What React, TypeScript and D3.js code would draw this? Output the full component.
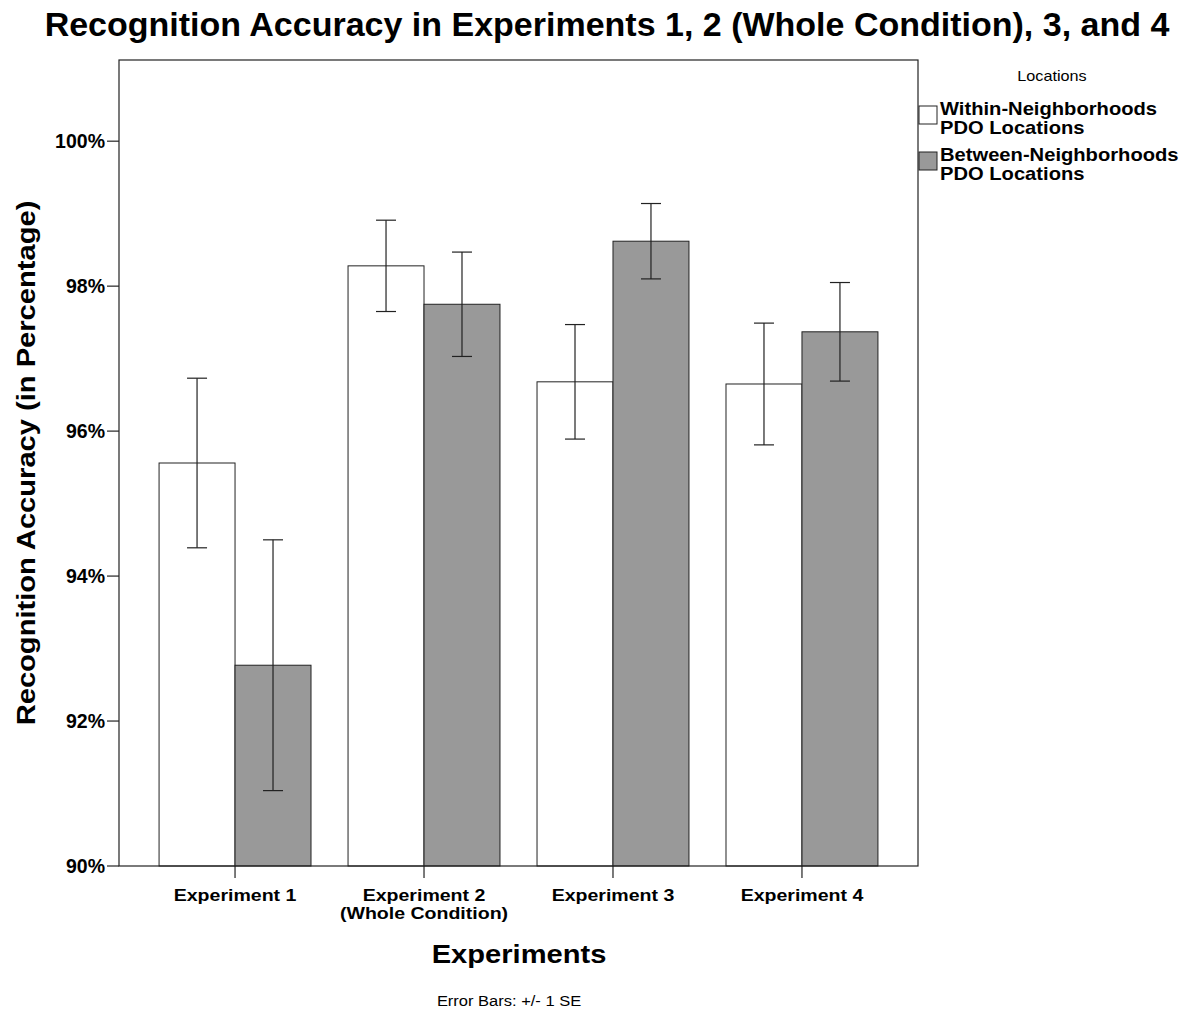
import * as d3 from 'd3';
import React from 'react';

// values (percent)
const experiments = ['Experiment 1', 'Experiment 2\n(Whole Condition)', 'Experiment 3', 'Experiment 4'];
const seriesNames = ['Within-Neighborhoods\nPDO Locations', 'Between-Neighborhoods\nPDO Locations'];
const withinMean = [95.56, 98.28, 96.68, 96.65];
const withinSE = [1.17, 0.63, 0.79, 0.84];
const betweenMean = [92.77, 97.75, 98.62, 97.37];
const betweenSE = [1.73, 0.72, 0.52, 0.68];
const yTicks = [90, 92, 94, 96, 98, 100];
const colors = ['#ffffff', '#999999'];

const font = 'Arial, "Liberation Sans", sans-serif';

// text squeezed/stretched horizontally, like the exported chart
function SText({ x, y, sx = 1, anchor = 'start', size, bold = false, children }: any) {
  return (
    <text
      transform={`translate(${x},${y}) scale(${sx},1)`}
      textAnchor={anchor}
      fontSize={size}
      fontWeight={bold ? 'bold' : 'normal'}
    >
      {children}
    </text>
  );
}

export default function App() {
  const width = 1189;
  const height = 1013;
  const left = 119;
  const right = 918;
  const top = 60;
  const bottom = 866;

  const y = d3.scaleLinear().domain([90, 101.12]).range([bottom, top]);
  const x = d3
    .scaleBand<string>()
    .domain(experiments)
    .range([left, right])
    .paddingInner(0.196)
    .paddingOuter(0.212);
  const sub = d3
    .scaleBand<number>()
    .domain([0, 1])
    .range([0, x.bandwidth()]);

  const series = [
    { mean: withinMean, se: withinSE },
    { mean: betweenMean, se: betweenSE },
  ];

  return (
    <svg
      width={width}
      height={height}
      style={{ position: 'absolute', left: 0, top: 0, background: '#fff' }}
      fontFamily={font}
    >
      <rect x={0} y={0} width={width} height={height} fill="#fff" />
      <SText x={607} y={36} anchor="middle" size={34} bold>
        Recognition Accuracy in Experiments 1, 2 (Whole Condition), 3, and 4
      </SText>

      {/* bars */}
      {series.map((s, si) => (
        <g key={si}>
          {experiments.map((e, i) => {
            const bx = (x(e) as number) + (sub(si) as number);
            return (
              <rect
                key={e}
                x={bx}
                y={y(s.mean[i])}
                width={sub.bandwidth()}
                height={bottom - y(s.mean[i])}
                fill={colors[si]}
                stroke="#222"
                strokeWidth={1}
              />
            );
          })}
        </g>
      ))}

      {/* error bars */}
      {series.map((s, si) => (
        <g key={'e' + si} stroke="#222" strokeWidth={1.2}>
          {experiments.map((e, i) => {
            const cx = (x(e) as number) + (sub(si) as number) + sub.bandwidth() / 2;
            const hi = y(s.mean[i] + s.se[i]);
            const lo = y(s.mean[i] - s.se[i]);
            return (
              <g key={e}>
                <line x1={cx} x2={cx} y1={hi} y2={lo} />
                <line x1={cx - 10} x2={cx + 10} y1={hi} y2={hi} />
                <line x1={cx - 10} x2={cx + 10} y1={lo} y2={lo} />
              </g>
            );
          })}
        </g>
      ))}

      {/* frame */}
      <rect x={left} y={top} width={right - left} height={bottom - top} fill="none" stroke="#222" strokeWidth={1.2} />

      {/* y axis */}
      {yTicks.map(t => (
        <g key={t}>
          <line x1={left - 12} x2={left} y1={y(t)} y2={y(t)} stroke="#222" strokeWidth={1.2} />
          <SText x={left - 14} y={y(t) + 7} anchor="end" size={19.5} bold>
            {t}%
          </SText>
        </g>
      ))}

      {/* x axis */}
      {experiments.map(e => {
        const cx = (x(e) as number) + x.bandwidth() / 2;
        const lines = e.split('\n');
        return (
          <g key={e}>
            <line x1={cx} x2={cx} y1={bottom} y2={bottom + 12} stroke="#222" strokeWidth={1.2} />
            {lines.map((l, li) => (
              <SText key={li} x={cx} y={901 + li * 18} anchor="middle" size={17} sx={1.15} bold>
                {l}
              </SText>
            ))}
          </g>
        );
      })}

      <SText x={519} y={963} anchor="middle" size={26} sx={1.12} bold>
        Experiments
      </SText>
      <text
        transform={`translate(35,${(top + bottom) / 2}) rotate(-90) scale(1.12,1)`}
        textAnchor="middle"
        fontSize={26}
        fontWeight="bold"
      >
        Recognition Accuracy (in Percentage)
      </text>
      <SText x={509} y={1006} anchor="middle" size={15} sx={1.1}>
        Error Bars: +/- 1 SE
      </SText>

      {/* legend */}
      <SText x={1052} y={81} anchor="middle" size={15} sx={1.08}>
        Locations
      </SText>
      {seriesNames.map((n, si) => {
        const ly = 106 + si * 46;
        return (
          <g key={n}>
            <rect x={919} y={ly} width={18} height={18} fill={colors[si]} stroke="#222" strokeWidth={1} />
            {n.split('\n').map((l, li) => (
              <SText key={li} x={940} y={ly + 9 + li * 19} size={18} sx={1.12} bold>
                {l}
              </SText>
            ))}
          </g>
        );
      })}
    </svg>
  );
}
